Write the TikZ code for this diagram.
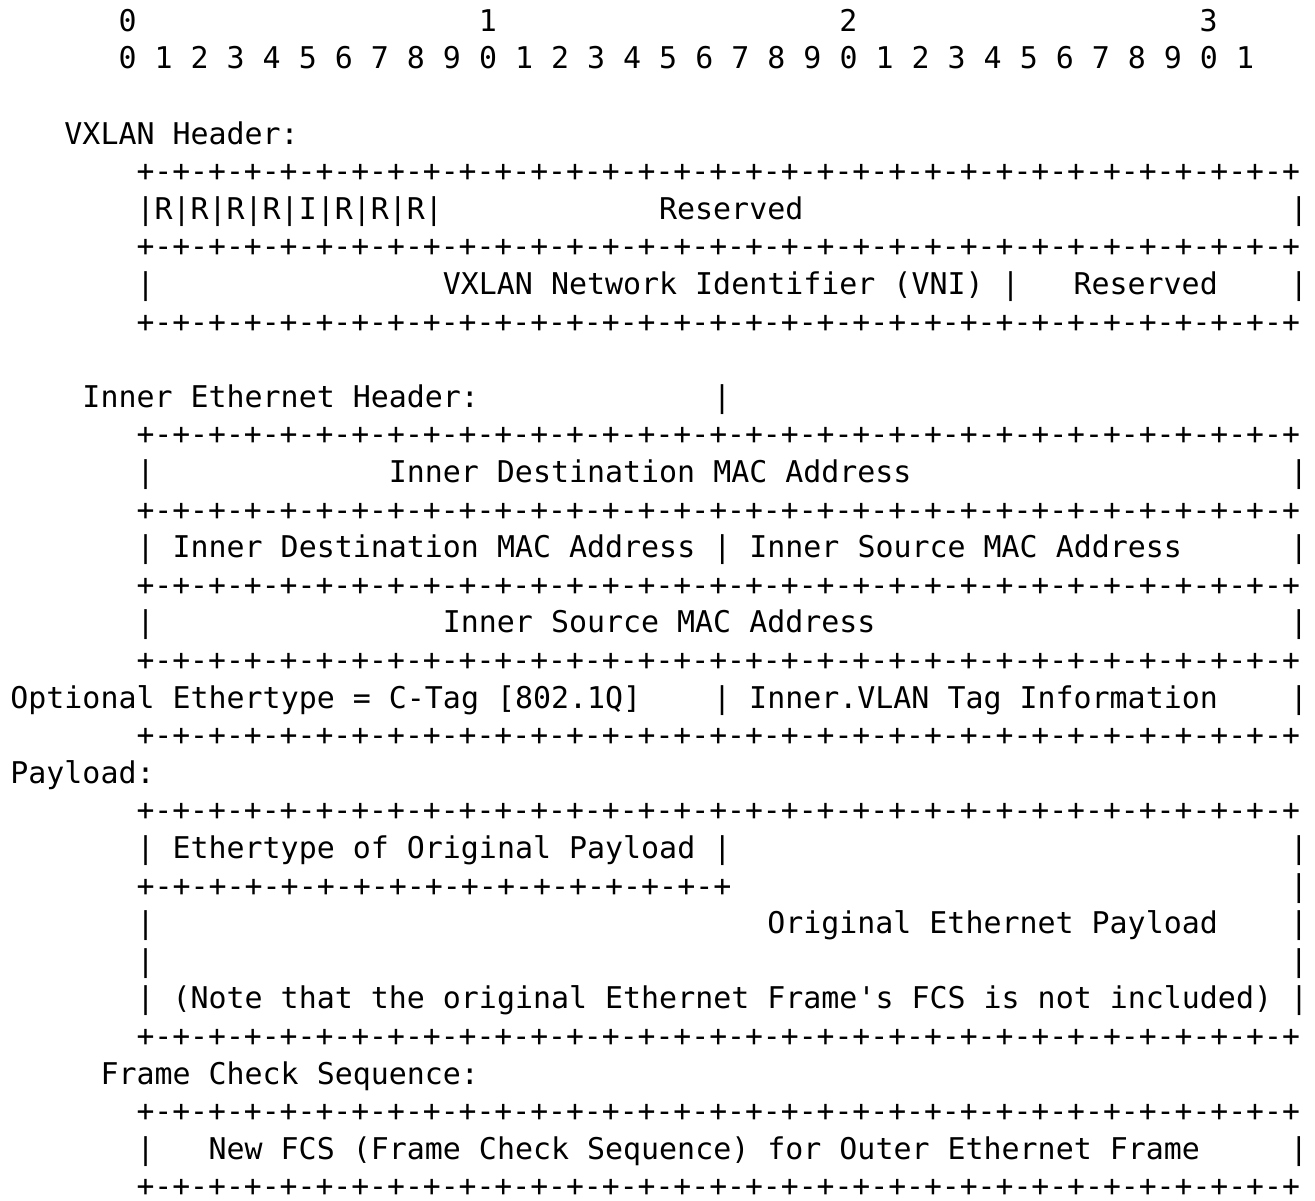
\documentclass[tikz,border=0pt]{standalone}
\usepackage{fontspec}
\usepackage{graphicx}
\setmonofont{DejaVu Sans Mono}
\newcommand\bfour{+-+-+-+-}
\newcommand\border{\scalebox{0.993}[1]{\bfour\bfour\bfour\bfour\bfour\bfour\bfour\bfour+}}
\newcommand\cx[1]{5.2pt+#1*9.01pt}
\newcommand\ry[1]{-15.6pt-#1*18.8pt}
\tikzset{
  txt/.style={anchor=base west, inner sep=0pt, outer sep=0pt, text=black,
              font=\ttfamily\fontsize{14.97pt}{18pt}\selectfont}
}
\begin{document}
\begin{tikzpicture}
\fill[white] (0,0) rectangle (657.5pt,-600pt);
\useasboundingbox (0,0) rectangle (657.5pt,-600pt);
% bit numbers
\node[txt] (r0a) at ({\cx{6}},{\ry{0}}) {0};
\node[txt] (r0b) at ({\cx{26}},{\ry{0}}) {1};
\node[txt] (r0c) at ({\cx{46}},{\ry{0}}) {2};
\node[txt] (r0d) at ({\cx{66}},{\ry{0}}) {3};
\node[txt] (r1a) at ({\cx{6}},{\ry{1}}) {0 1 2 3 4 5 6 7 8 9 0 1 2 3 4 5 6 7 8 9 0 1 2 3 4 5 6 7 8 9 0 1};
% VXLAN header
\node[txt] (r3a) at ({\cx{3}},{\ry{3}}) {VXLAN Header:};
\node[txt] (r4a) at ({\cx{7}},{\ry{4}}) {\border};
\node[txt] (r5a) at ({\cx{7}},{\ry{5}}) {|R|R|R|R|I|R|R|R|};
\node[txt] (r5b) at ({\cx{36}},{\ry{5}}) {Reserved};
\node[txt] (r5c) at ({\cx{71}},{\ry{5}}) {|};
\node[txt] (r6a) at ({\cx{7}},{\ry{6}}) {\border};
\node[txt] (r7a) at ({\cx{7}},{\ry{7}}) {|};
\node[txt] (r7b) at ({\cx{24}},{\ry{7}}) {VXLAN Network Identifier (VNI) |};
\node[txt] (r7c) at ({\cx{59}},{\ry{7}}) {Reserved};
\node[txt] (r7d) at ({\cx{71}},{\ry{7}}) {|};
\node[txt] (r8a) at ({\cx{7}},{\ry{8}}) {\border};
% Inner Ethernet header
\node[txt] (r10a) at ({\cx{4}},{\ry{10}}) {Inner Ethernet Header:};
\node[txt] (r10b) at ({\cx{39}},{\ry{10}}) {|};
\node[txt] (r11a) at ({\cx{7}},{\ry{11}}) {\border};
\node[txt] (r12a) at ({\cx{7}},{\ry{12}}) {|};
\node[txt] (r12b) at ({\cx{21}},{\ry{12}}) {Inner Destination MAC Address};
\node[txt] (r12c) at ({\cx{71}},{\ry{12}}) {|};
\node[txt] (r13a) at ({\cx{7}},{\ry{13}}) {\border};
\node[txt] (r14a) at ({\cx{7}},{\ry{14}}) {| Inner Destination MAC Address | Inner Source MAC Address};
\node[txt] (r14b) at ({\cx{71}},{\ry{14}}) {|};
\node[txt] (r15a) at ({\cx{7}},{\ry{15}}) {\border};
\node[txt] (r16a) at ({\cx{7}},{\ry{16}}) {|};
\node[txt] (r16b) at ({\cx{24}},{\ry{16}}) {Inner Source MAC Address};
\node[txt] (r16c) at ({\cx{71}},{\ry{16}}) {|};
\node[txt] (r17a) at ({\cx{7}},{\ry{17}}) {\border};
\node[txt] (r18a) at ({\cx{0}},{\ry{18}}) {Optional Ethertype = C-Tag [802.1Q]};
\node[txt] (r18b) at ({\cx{39}},{\ry{18}}) {| Inner.VLAN Tag Information};
\node[txt] (r18c) at ({\cx{71}},{\ry{18}}) {|};
\node[txt] (r19a) at ({\cx{7}},{\ry{19}}) {\border};
% Payload
\node[txt] (r20a) at ({\cx{0}},{\ry{20}}) {Payload:};
\node[txt] (r21a) at ({\cx{7}},{\ry{21}}) {\border};
\node[txt] (r22a) at ({\cx{7}},{\ry{22}}) {| Ethertype of Original Payload |};
\node[txt] (r22b) at ({\cx{71}},{\ry{22}}) {|};
\node[txt] (r23a) at ({\cx{7}},{\ry{23}}) {\bfour\bfour\bfour\bfour+};
\node[txt] (r23b) at ({\cx{71}},{\ry{23}}) {|};
\node[txt] (r24a) at ({\cx{7}},{\ry{24}}) {|};
\node[txt] (r24b) at ({\cx{42}},{\ry{24}}) {Original Ethernet Payload};
\node[txt] (r24c) at ({\cx{71}},{\ry{24}}) {|};
\node[txt] (r25a) at ({\cx{7}},{\ry{25}}) {|};
\node[txt] (r25b) at ({\cx{71}},{\ry{25}}) {|};
\node[txt] (r26a) at ({\cx{7}},{\ry{26}}) {| (Note that the original Ethernet Frame\textquotesingle s FCS is not included) |};
\node[txt] (r27a) at ({\cx{7}},{\ry{27}}) {\border};
% FCS
\node[txt] (r28a) at ({\cx{5}},{\ry{28}}) {Frame Check Sequence:};
\node[txt] (r29a) at ({\cx{7}},{\ry{29}}) {\border};
\node[txt] (r30a) at ({\cx{7}},{\ry{30}}) {|};
\node[txt] (r30b) at ({\cx{11}},{\ry{30}}) {New FCS (Frame Check Sequence) for Outer Ethernet Frame};
\node[txt] (r30c) at ({\cx{71}},{\ry{30}}) {|};
\node[txt] (r31a) at ({\cx{7}},{\ry{31}}) {\border};
\end{tikzpicture}
\end{document}
